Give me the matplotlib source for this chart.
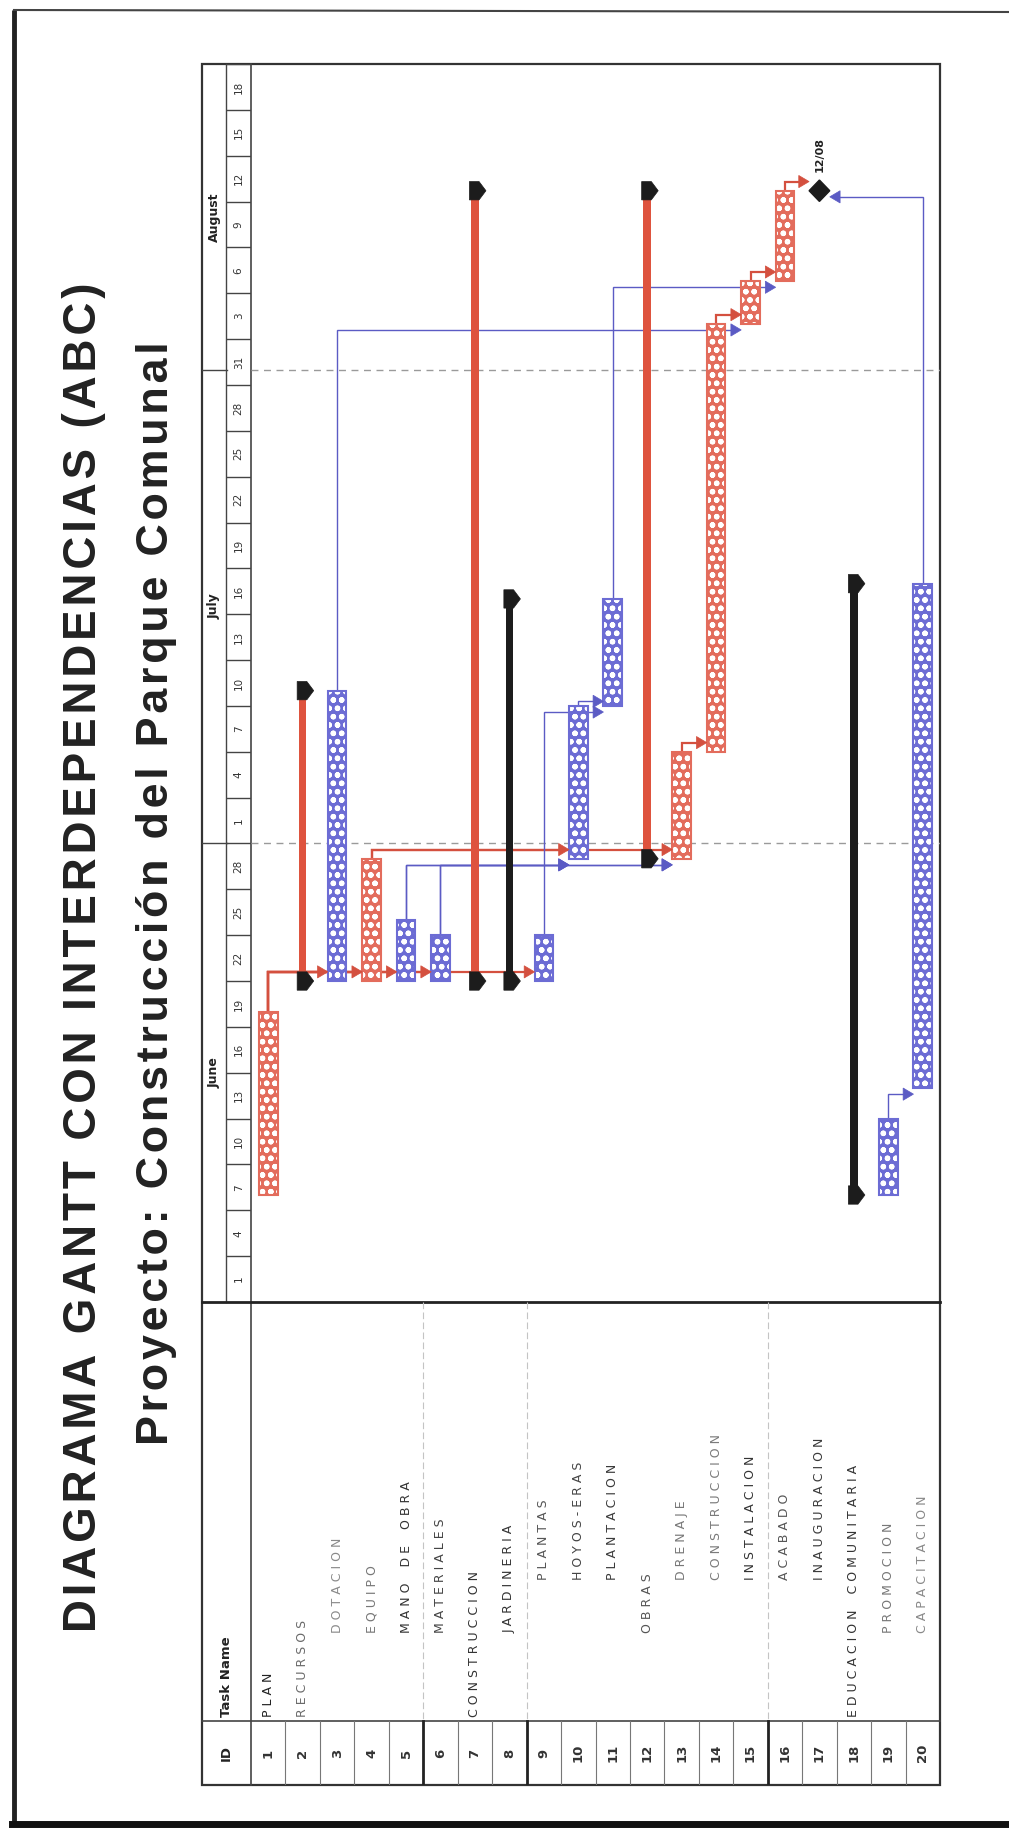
import numpy as np
import pandas as pd
import matplotlib
matplotlib.use('Agg')
import matplotlib.pyplot as plt
from matplotlib.patches import Rectangle, Polygon

plt.rcParams['hatch.linewidth'] = 1.6

# ---- project data -------------------------------------------------------
title = 'DIAGRAMA GANTT CON INTERDEPENDENCIAS (ABC)'
subtitle = 'Proyecto: Construcción del Parque Comunal'

task_names = ['PLAN', 'RECURSOS', 'DOTACION', 'EQUIPO', 'MANO DE OBRA', 'MATERIALES',
              'CONSTRUCCION', 'JARDINERIA', 'PLANTAS', 'HOYOS-ERAS', 'PLANTACION',
              'OBRAS', 'DRENAJE', 'CONSTRUCCION', 'INSTALACION', 'ACABADO',
              'INAUGURACION', 'EDUCACION COMUNITARIA', 'PROMOCION', 'CAPACITACION']
outline_level = [0, 0, 1, 1, 1, 1, 0, 1, 2, 2, 2, 1, 2, 2, 2, 2, 2, 0, 1, 1]
task_type = ['task', 'summary', 'task', 'task', 'task', 'task', 'summary', 'summary',
             'task', 'task', 'task', 'summary', 'task', 'task', 'task', 'task',
             'milestone', 'summary', 'task', 'task']
critical = [1, 1, 0, 1, 0, 0, 1, 0, 0, 0, 0, 1, 1, 1, 1, 1, 1, 0, 0, 0]
start = ['2009-06-08', '2009-06-22', '2009-06-22', '2009-06-22', '2009-06-22',
         '2009-06-22', '2009-06-22', '2009-06-22', '2009-06-22', '2009-06-30',
         '2009-07-10', '2009-06-30', '2009-06-30', '2009-07-07', '2009-08-04',
         '2009-08-06 19:00', '2009-08-12 17:00', '2009-06-08', '2009-06-08', '2009-06-15']
finish = ['2009-06-20', '2009-07-11', '2009-07-11', '2009-06-30', '2009-06-26',
          '2009-06-25', '2009-08-12 17:00', '2009-07-17', '2009-06-25', '2009-07-10',
          '2009-07-17', '2009-08-12 17:00', '2009-07-07', '2009-08-04', '2009-08-06 19:00',
          '2009-08-12 17:00', '2009-08-12 17:00', '2009-07-18', '2009-06-13', '2009-07-18']
# predecessor -> successor (task ids)
links = [(1, 3), (1, 4), (1, 5), (1, 6), (1, 9), (4, 10), (4, 13), (5, 10), (5, 13),
         (6, 10), (6, 13), (9, 11), (10, 11), (13, 14), (14, 15), (15, 16), (16, 17),
         (3, 15), (11, 16), (20, 17), (19, 20)]

scale_start = '2009-06-01'
scale_end = '2009-08-21'
months = ['June', 'July', 'August']
month_starts = ['2009-06-01', '2009-07-01', '2009-08-01']
group_breaks = [5.5, 8.5, 15.5]
name_shade = ['#222222', '#6a6a6a', '#8a8a8a', '#777777', '#333333', '#444444', '#333333',
              '#333333', '#555555', '#444444', '#3a3a3a', '#555555', '#777777', '#7a7a7a',
              '#333333', '#555555', '#3a3a3a', '#333333', '#777777', '#888888']

origin = pd.Timestamp(scale_start)


def day(d):
    return (pd.Timestamp(d) - origin) / pd.Timedelta(days=1)


s_day = np.array([day(d) for d in start])
f_day = np.array([day(d) for d in finish])
n_days = day(scale_end)
rows = np.arange(1, len(task_names) + 1)

RED_BAR = '#e36c5c'
RED_SUM = '#de533e'
BLUE_BAR = '#6c6cd4'
RED_LINK = '#d4503f'
BLUE_LINK = '#5b5bc4'
DARK = '#1c1c1c'

# ---- figure layout (pixel boxes) ---------------------------------------
W, H = 1009, 1842
fig = plt.figure(figsize=(W / 100, H / 100), dpi=100)


def box(x0, y0, x1, y1):
    return [x0 / W, 1 - y1 / H, (x1 - x0) / W, (y1 - y0) / H]


X_L, X_M, X_H, X_R = 202, 226, 251, 940
Y_T, Y_B, Y_ID, Y_TB = 64, 1302, 1721, 1785
indent = [0, 84, 137]

bg = fig.add_axes([0, 0, 1, 1])
bg.set_xlim(0, W)
bg.set_ylim(H, 0)
bg.axis('off')

ax = fig.add_axes(box(X_H, Y_T, X_R, Y_B))
ax.set_xlim(0.5, 20.5)
ax.set_ylim(0, n_days)
ax.axis('off')

hx = fig.add_axes(box(X_L, Y_T, X_H, Y_B))
hx.set_xlim(0, 2)
hx.set_ylim(0, n_days)
hx.axis('off')

row_w = (X_R - X_H) / 20.0
tx = fig.add_axes(box(X_L, Y_B, X_R, Y_TB))
tx.set_xlim(0.5 - (X_H - X_L) / row_w, 20.5)
tx.set_ylim(Y_TB, Y_B)
tx.axis('off')

# ---- outer page frame and table grid -----------------------------------
bg.plot([14, 14], [10, 1824], color='#222222', lw=3.5, solid_capstyle='butt')
bg.plot([14, W], [10, 12], color='#444444', lw=1.5)
bg.plot([12, W], [1824, 1824], color='#111111', lw=5)
bg.add_patch(Rectangle((X_L, Y_T), X_R - X_L, Y_TB - Y_T, fill=False, ec='#333333', lw=1.6))
bg.plot([X_M, X_M], [Y_T, Y_B], color='#444444', lw=1.0)
bg.plot([X_H, X_H], [Y_T, Y_TB], color='#444444', lw=1.2)
bg.plot([X_L, X_R], [Y_B, Y_B], color='#222222', lw=2.0)
bg.plot([X_L, X_R], [Y_ID, Y_ID], color='#444444', lw=1.2)


def fitted_text(axis, x, y, s, length, **kw):
    t = axis.text(x, y, s, fontsize=20, **kw)
    bb = t.get_window_extent(fig.canvas.get_renderer())
    t.set_fontsize(20 * length / bb.height)
    return t


font_title = ['Liberation Sans', 'DejaVu Sans']
fitted_text(bg, 96, 957, '\u200a'.join(title), 1350, rotation=90, rotation_mode='anchor',
            ha='center', va='baseline', fontweight='bold', family=font_title, color='#222222')
fitted_text(bg, 168, 893, '\u200a'.join(subtitle), 1107, rotation=90, rotation_mode='anchor',
            ha='center', va='baseline', fontweight='bold', family=font_title, color='#222222')

# ---- timescale header ---------------------------------------------------
m_days = [day(m) for m in month_starts] + [n_days]
for name, a, b in zip(months, m_days[:-1], m_days[1:]):
    hx.text(0.5, (a + b) / 2, name, rotation=90, ha='center', va='center',
            fontsize=9, fontweight='bold', color='#222222')
for a in m_days[1:-1]:
    hx.plot([0, 1], [a, a], color='#444444', lw=1.0)
    ax.axhline(a, color='#9a9a9a', lw=1.0, ls=(0, (5, 4)), zorder=1)

cells = pd.date_range(scale_start, scale_end, freq='3D')
for c in cells:
    d = day(c)
    if d > 0:
        hx.plot([1, 2], [d, d], color='#444444', lw=1.0)
    if d < n_days:
        hx.text(1.5, d + 1.5, str(c.day), rotation=90, ha='center', va='center',
                fontsize=7.5, color='#333333')

# ---- bars ---------------------------------------------------------------
BAR_W = 0.54
SUM_W = 0.22


def cap(r, d):
    pts = [(r - 0.16, d - 0.6), (r - 0.16, d + 0.6), (r + 0.12, d + 0.6),
           (r + 0.32, d), (r + 0.12, d - 0.6)]
    ax.add_patch(Polygon(pts, closed=True, fc=DARK, ec=DARK, lw=0.5, zorder=5))


for r, kind, crit, s, f in zip(rows, task_type, critical, s_day, f_day):
    if kind == 'task':
        col = RED_BAR if crit else BLUE_BAR
        ax.add_patch(Rectangle((r - BAR_W / 2, s), BAR_W, f - s, fc=col, ec='white',
                               hatch='oo', lw=0, zorder=3))
        ax.add_patch(Rectangle((r - BAR_W / 2, s), BAR_W, f - s, fill=False, ec=col,
                               lw=1.5, zorder=3))
    elif kind == 'summary':
        col = RED_SUM if crit else DARK
        ax.add_patch(Rectangle((r - SUM_W / 2, s), SUM_W, f - s, fc=col, lw=0, zorder=3))
        cap(r, s)
        cap(r, f)
    else:
        ax.add_patch(Polygon([(r - 0.3, s), (r, s + 0.7), (r + 0.3, s), (r, s - 0.7)],
                             closed=True, fc=DARK, ec=DARK, zorder=5))
        ms = pd.Timestamp(finish[r - 1])
        ax.text(r, s + 1.2, f'{ms.day:02d}/{ms.month:02d}', rotation=90, ha='center',
                va='bottom', fontsize=8, fontweight='bold', color='#222222')

# ---- dependency links ---------------------------------------------------
for p, q in links:
    crit = critical[p - 1]
    col = RED_LINK if crit else BLUE_LINK
    level = s_day[q - 1] + (0.6 if crit else -0.4)
    level = max(level, f_day[p - 1] + 0.3)
    half = 0.3 if task_type[q - 1] == 'milestone' else BAR_W / 2
    tip = q - half if q > p else q + half
    base = tip - 0.3 if q > p else tip + 0.3
    ax.plot([p, p, base], [f_day[p - 1], level, level], color=col,
            lw=1.6 if crit else 1.0, zorder=2, solid_joinstyle='miter')
    ax.add_patch(Polygon([(tip, level), (base, level + 0.4), (base, level - 0.4)],
                         closed=True, fc=col, ec=col, lw=0.5, zorder=6))

# ---- task table ---------------------------------------------------------
for b in np.arange(1.5, 20.5):
    tx.plot([b, b], [Y_ID, Y_TB], color='#777777', lw=0.8)
for b in group_breaks:
    tx.plot([b, b], [Y_ID, Y_TB], color='#222222', lw=2.0)
    tx.plot([b, b], [Y_B, Y_ID], color='#c4c4c4', lw=0.8, ls=(0, (6, 3)))

hdr = (tx.get_xlim()[0] + 0.5) / 2
tx.text(hdr, (Y_ID + Y_TB) / 2, 'ID', rotation=90, ha='center', va='center',
        fontsize=9.5, fontweight='bold', color='#222222')
tx.text(hdr, Y_ID - 4, 'Task Name', rotation=90, ha='center', va='bottom',
        fontsize=9.5, fontweight='bold', color='#222222')
for r, name, lev, shade in zip(rows, task_names, outline_level, name_shade):
    tx.text(r, (Y_ID + Y_TB) / 2, str(r), rotation=90, ha='center', va='center',
            fontsize=9.5, fontweight='bold', color='#333333')
    tx.text(r, Y_ID - 4 - indent[lev], ' '.join(name).replace('   ', '    '), rotation=90,
            ha='center', va='bottom', fontsize=9, color=shade)

fig.savefig('out.png', dpi=100, facecolor='white')
